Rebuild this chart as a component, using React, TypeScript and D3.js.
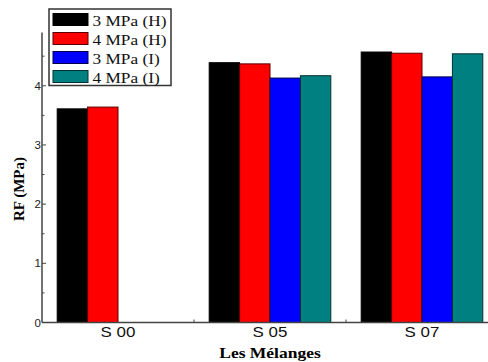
import React from "react";
import * as d3 from "d3";

const categories = ["S 00", "S 05", "S 07"];
const seriesNames = ["3 MPa (H)", "4 MPa (H)", "3 MPa (I)", "4 MPa (I)"];
const seriesColors = ["#000000", "#ff0000", "#0000ff", "#008080"];
const seriesStrokes = ["#000000", "#5a0000", "#00004a", "#033030"];
const h3 = [3.61, 4.39, 4.57];
const h4 = [3.64, 4.37, 4.55];
const i3 = [null, 4.13, 4.15];
const i4 = [null, 4.17, 4.54];
const yTicks = [0, 1, 2, 3, 4];
const yMinor = [0.5, 1.5, 2.5, 3.5, 4.5];

const seriesValues: (number | null)[][] = [h3, h4, i3, i4];

const W = 488;
const H = 362;
const left = 42;
const bottom = 322.5;
const top = 32.5;
const SX = 1.13;

export default function App() {
  const x = d3.scaleBand<string>().domain(categories).range([left, left + 456]).paddingInner(0).paddingOuter(0);
  const xs = d3.scaleBand<string>().domain(seriesNames).range([0, x.bandwidth()]).paddingInner(0).paddingOuter(0.5);
  const y = d3.scaleLinear().domain([0, 4.9]).range([bottom, top]);

  const serif = "'Liberation Serif', 'Times New Roman', serif";
  const sans = "'Liberation Sans', Arial, sans-serif";
  const axisColor = "#444";

  const sText = (cx: number, cy: number, anchor: string, props: any, txt: string) => (
    <g transform={`translate(${cx},${cy}) scale(${SX},1)`}>
      <text x={0} y={0} textAnchor={anchor as any} {...props}>{txt}</text>
    </g>
  );

  return (
    <svg width={W} height={H} style={{ position: "absolute", left: 0, top: 0 }}>
      <rect width={W} height={H} fill="#fff" />
      {/* bars */}
      {categories.map((c, ci) =>
        seriesNames.map((s, si) => {
          const v = seriesValues[si][ci];
          if (v == null) return null;
          const bx = (x(c) as number) + (xs(s) as number);
          return (
            <rect key={c + s} x={bx} y={y(v)} width={xs.bandwidth()} height={y(0) - y(v)}
              fill={seriesColors[si]} stroke={seriesStrokes[si]} strokeWidth={1} />
          );
        })
      )}
      {/* y axis */}
      <line x1={left} x2={left} y1={top} y2={bottom} stroke={axisColor} strokeWidth={1.5} />
      {yTicks.map((t) => (
        <g key={"yt" + t}>
          <line x1={left} x2={left + 4} y1={y(t)} y2={y(t)} stroke={axisColor} strokeWidth={1} />
          <text x={left - 1} y={y(t)} dy="0.36em" textAnchor="end" fontFamily={sans} fontSize={11.5} fill="#222">{t}</text>
        </g>
      ))}
      {yMinor.map((t) => (
        <line key={"ym" + t} x1={left} x2={left + 2.5} y1={y(t)} y2={y(t)} stroke={axisColor} strokeWidth={1} />
      ))}
      {/* x axis */}
      <line x1={left} x2={W} y1={bottom} y2={bottom} stroke={axisColor} strokeWidth={1.5} />
      {categories.slice(1).map((c) => (
        <line key={"xt" + c} x1={x(c) as number} x2={x(c) as number} y1={bottom} y2={bottom - 3} stroke={axisColor} strokeWidth={1} />
      ))}
      {categories.map((c) => (
        <g key={"xl" + c}>
          {sText((x(c) as number) + x.bandwidth() / 2, 336.5, "middle", { fontFamily: sans, fontSize: 15, fill: "#111" }, c)}
        </g>
      ))}
      {/* axis titles */}
      {sText(270, 358, "middle", { fontFamily: serif, fontSize: 15.5, fontWeight: "bold", fill: "#000" }, "Les Mélanges")}
      <text transform={`translate(24,189) rotate(-90)`} textAnchor="middle" fontFamily={serif} fontSize={15} fontWeight="bold" fill="#000">RF (MPa)</text>
      {/* legend */}
      <rect x={49} y={9} width={122} height={76.5} fill="#fff" stroke="#333" strokeWidth={1.5} />
      {seriesNames.map((s, i) => {
        const ry = 13.5 + i * 19;
        return (
          <g key={"lg" + s}>
            <rect x={53} y={ry} width={35} height={12} fill={seriesColors[i]} stroke={seriesStrokes[i]} strokeWidth={1} />
            {sText(92.5, ry + 12, "start", { fontFamily: serif, fontSize: 15.3, fill: "#111" }, s)}
          </g>
        );
      })}
    </svg>
  );
}
